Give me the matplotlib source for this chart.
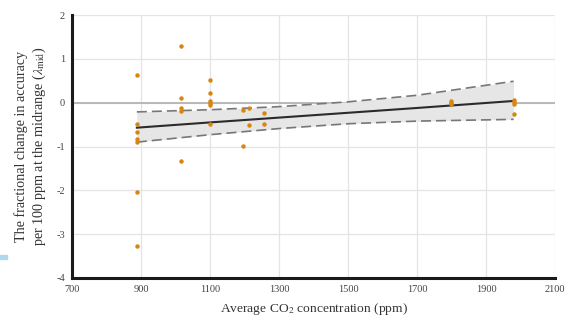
import matplotlib.pyplot as plt
from matplotlib.patches import Rectangle

# measured points (CO2 ppm, fractional change per 100 ppm)
co2 = [888] * 7 + [1016] * 5 + [1100] * 6 + [1196] * 2 + [1213] * 2 + [1256] * 2 + [1800] * 3 + [1980] * 4
lam = [0.63, -0.48, -0.67, -0.83, -0.90, -2.03, -3.28,
       1.30, 0.10, -0.12, -0.20, -1.33,
       0.52, 0.22, 0.05, 0.00, -0.05, -0.48,
       -0.17, -0.98,
       -0.11, -0.50,
       -0.24, -0.48,
       0.05, 0.00, -0.04,
       0.06, 0.02, -0.03, -0.25]

# regression fit and confidence band
fit_x = [888, 1100, 1300, 1500, 1700, 1980]
fit_y = [-0.57, -0.45, -0.34, -0.23, -0.12, 0.04]
ci_upper = [-0.21, -0.16, -0.09, 0.02, 0.17, 0.49]
ci_lower = [-0.90, -0.73, -0.59, -0.48, -0.42, -0.38]

x_ticks = [700, 900, 1100, 1300, 1500, 1700, 1900, 2100]
y_ticks = [-4, -3, -2, -1, 0, 1, 2]

plt.rcParams["font.family"] = ["Liberation Serif", "DejaVu Serif"]
plt.rcParams["mathtext.fontset"] = "stix"
plt.rcParams["axes.unicode_minus"] = False

fig = plt.figure(figsize=(5.76, 3.22), dpi=100)
ax = fig.add_axes([0.125, 0.137, 0.8385, 0.816])

ax.set_xlim(700, 2100)
ax.set_ylim(-4, 2)
ax.set_xticks(x_ticks)
ax.set_yticks(y_ticks)
ax.set_yticklabels([str(t) for t in y_ticks])
ax.grid(True, color="#e4e4e4", linewidth=0.9)
ax.set_axisbelow(True)

ax.axhline(0, color="#b4b4b4", linewidth=1.3, zorder=1)

ax.fill_between(fit_x, ci_lower, ci_upper, color="#e6e6e6", zorder=2, linewidth=0)
ax.plot(fit_x, ci_upper, color="#777777", linestyle=(0, (6, 3)), linewidth=1.2, zorder=3)
ax.plot(fit_x, ci_lower, color="#777777", linestyle=(0, (6, 3)), linewidth=1.2, zorder=3)
ax.plot(fit_x, fit_y, color="#2b2b2b", linewidth=1.5, zorder=4)

ax.plot(co2, lam, "o", color="#d9860f", markersize=3.2, markeredgewidth=0, zorder=5)

for side in ["top", "right"]:
    ax.spines[side].set_visible(False)
for side in ["left", "bottom"]:
    ax.spines[side].set_linewidth(2.2)
    ax.spines[side].set_color("#1a1a1a")

ax.tick_params(length=0, labelsize=7.5, colors="#444444", pad=5)
ax.tick_params(axis="x", pad=5)

ax.set_xlabel("Average CO$_2$ concentration (ppm)", fontsize=9.7, color="#333333", labelpad=5)
ax.set_ylabel("The fractional change in accuracy\nper 100 ppm at the midrange ($\\lambda_{\\mathrm{mid}}$)",
              fontsize=10.2, color="#333333", labelpad=6, linespacing=1.25)

# small blue mark on the left edge
fig.patches.append(Rectangle((0, 1 - 259 / 322), 7 / 576, 4 / 322,
                             transform=fig.transFigure, color="#aad9f0", zorder=0))

fig.savefig("out.png", dpi=100)
